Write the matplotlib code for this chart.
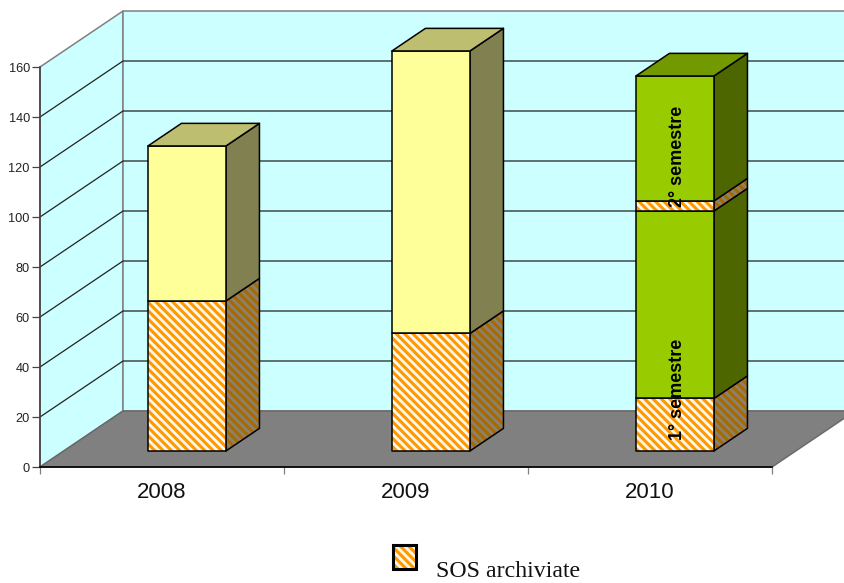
import matplotlib
matplotlib.use('Agg')
import matplotlib.pyplot as plt
from matplotlib.patches import Polygon, Rectangle

years = ['2008', '2009', '2010']
sos_first = [60, 47, 21]
other_first = [62, 113, 75]
sos_second = [0, 0, 4]
other_second = [0, 0, 50]
y_ticks = [0, 20, 40, 60, 80, 100, 120, 140, 160]
bar_notes = [(2, 4.4, '1° semestre'), (2, 97.6, '2° semestre')]
legend_label = 'SOS archiviate'

W, H = 844, 583
# depth of the box, in x category units and y value units
DX = 83 / 244
DY = 22.4
BAR_W = 78 / 244
BAR_OFF = 0.345
Z0 = 0.286
Z1 = 0.69

ORANGE = '#FF9900'
YELLOW = ('#FFFF99', '#808050', '#BEBE70')
GREEN = ('#99CC00', '#4D6600', '#739900')
STRIPES = '\\\\\\\\'
plt.rcParams['hatch.linewidth'] = 2.0
plt.rcParams['font.family'] = 'Liberation Sans'


def pr(x, y, z):
    return (x + z * DX, y + z * DY)


def shape(ax, pts, fc, zo, lw=1.1, ec='black', hatch=None, hatch_col='white'):
    if hatch:
        ax.add_patch(Polygon(pts, closed=True, facecolor=fc, edgecolor=hatch_col,
                             hatch=hatch, lw=0, clip_on=False, zorder=zo))
        fc = 'none'
    ax.add_patch(Polygon(pts, closed=True, facecolor=fc, edgecolor=ec, lw=lw,
                         clip_on=False, zorder=zo, joinstyle='round'))


def segment(ax, i, y0, y1, cols, zo, sos=False, top=False):
    x0 = i + BAR_OFF
    x1 = x0 + BAR_W
    front = [pr(x0, y0, Z0), pr(x1, y0, Z0), pr(x1, y1, Z0), pr(x0, y1, Z0)]
    side = [pr(x1, y0, Z0), pr(x1, y0, Z1), pr(x1, y1, Z1), pr(x1, y1, Z0)]
    if sos:
        shape(ax, side, '#A86A00', zo, hatch=STRIPES, hatch_col='#8A8270')
        shape(ax, front, ORANGE, zo, hatch=STRIPES, hatch_col='#FFF8EE')
    else:
        shape(ax, side, cols[1], zo)
        shape(ax, front, cols[0], zo)
    if top:
        roof = [pr(x0, y1, Z0), pr(x1, y1, Z0), pr(x1, y1, Z1), pr(x0, y1, Z1)]
        shape(ax, roof, cols[2], zo)


fig = plt.figure(figsize=(W / 100, H / 100), dpi=100)
ax = fig.add_axes([40 / W, 1 - 467 / H, 732 / W, 400 / H])
ax.set_xlim(0, 3)
ax.set_ylim(0, 160)
ax.patch.set_visible(False)

# walls and floor of the box
grey = '#808080'
shape(ax, [pr(0, 0, 0), pr(0, 0, 1), pr(0, 160, 1), pr(0, 160, 0)], '#CCFFFF', 1, ec=grey)
shape(ax, [pr(0, 0, 1), pr(3, 0, 1), pr(3, 160, 1), pr(0, 160, 1)], '#CCFFFF', 1, ec=grey)
shape(ax, [pr(0, 0, 0), pr(3, 0, 0), pr(3, 0, 1), pr(0, 0, 1)], grey, 2, ec='#6a6a6a')

# grid runs along the side wall, then the back wall
for v in y_ticks[1:-1]:
    a, b, c = pr(0, v, 0), pr(0, v, 1), pr(3, v, 1)
    ax.plot([a[0], b[0], c[0]], [a[1], b[1], c[1]], color='#222222', lw=0.9,
            clip_on=False, zorder=3, solid_joinstyle='miter')

for i in range(len(years)):
    cols = GREEN if years[i] == '2010' else YELLOW
    y = 0
    parts = [(sos_first[i], True), (other_first[i], False),
             (sos_second[i], True), (other_second[i], False)]
    parts = [p for p in parts if p[0] > 0]
    for n, (val, is_sos) in enumerate(parts):
        segment(ax, i, y, y + val, cols, 4 + n, sos=is_sos, top=n == len(parts) - 1)
        y += val

for i, val, txt in bar_notes:
    px, py = pr(i + BAR_OFF + BAR_W / 2, val, Z0)
    ax.text(px + 0.012, py, txt, rotation=90, ha='center', va='bottom', fontsize=13,
            fontweight='bold', color='black', zorder=10, clip_on=False)

# real axes on the front edge of the box
for s in ['top', 'right']:
    ax.spines[s].set_visible(False)
ax.spines['left'].set_color('#444444')
ax.spines['left'].set_linewidth(1.2)
ax.spines['bottom'].set_color('black')
ax.spines['bottom'].set_linewidth(1.2)
ax.spines['left'].set_zorder(3)
ax.spines['bottom'].set_zorder(3)
ax.set_yticks(y_ticks)
ax.tick_params(axis='y', length=5.8, width=0.9, color='#444444', labelsize=9.2,
               labelcolor='#222222', pad=1.5)
ax.set_xticks([0, 1, 2, 3])
ax.set_xticklabels([])
ax.tick_params(axis='x', which='major', length=5, width=0.9, color=grey)
ax.set_xticks([0.5, 1.5, 2.5], minor=True)
ax.set_xticklabels(years, minor=True, fontsize=16, color='#111111')
ax.tick_params(axis='x', which='minor', length=0, pad=11)

# legend swatch and label
box = (393 / W, 1 - 569 / H, 23 / W, 24 / H)
fig.add_artist(Rectangle(box[:2], box[2], box[3], transform=fig.transFigure,
                         facecolor=ORANGE, edgecolor='#FFF8EE', hatch=STRIPES, lw=0))
fig.add_artist(Rectangle(box[:2], box[2], box[3], transform=fig.transFigure,
                         facecolor='none', edgecolor='black', lw=2.2))
fig.text(436 / W, 1 - 577 / H, legend_label, family='Liberation Serif',
         fontsize=17.2, color='#111111')

fig.savefig('out.png', dpi=100)
